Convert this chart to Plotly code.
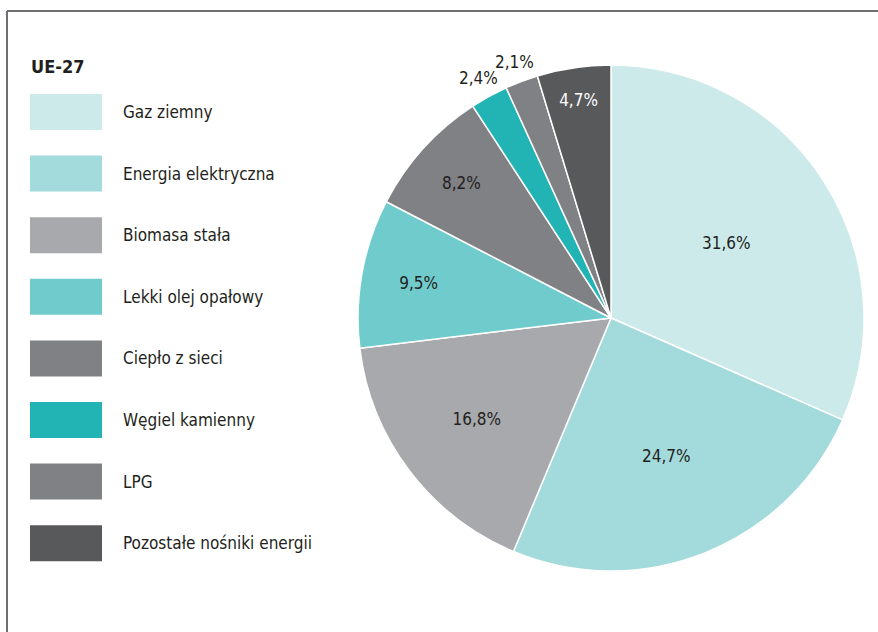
import math
import plotly.graph_objects as go

categories = ["Gaz ziemny", "Energia elektryczna", "Biomasa stała", "Lekki olej opałowy",
              "Ciepło z sieci", "Węgiel kamienny", "LPG", "Pozostałe nośniki energii"]
values = [31.6, 24.7, 16.8, 9.5, 8.2, 2.4, 2.1, 4.7]
colors = ["#cdeaea", "#a3dadb", "#a8a9ad", "#70cccc", "#808184", "#22b3b5", "#808184", "#58595b"]
outside = [False, False, False, False, False, True, True, False]
text_colors = ["#231f20"] * 7 + ["#ffffff"]
title = "UE-27"

W, H = 878, 632
FONT = "Liberation Sans Narrow, DejaVu Sans Condensed, Arial Narrow, sans-serif"
CX, CY, R = 611, 318, 253

labels_txt = [f"{v:.1f}%".replace(".", ",") for v in values]
inside_txt = ["" if o else t for o, t in zip(outside, labels_txt)]

fig = go.Figure(go.Pie(
    labels=categories,
    values=values,
    text=inside_txt,
    textinfo="text",
    textposition="inside",
    insidetextorientation="horizontal",
    insidetextfont=dict(color=text_colors, size=17, family=FONT),
    sort=False,
    direction="clockwise",
    rotation=0,
    marker=dict(colors=colors, line=dict(color="#ffffff", width=1.5)),
    domain=dict(x=[(CX - R) / W, (CX + R) / W], y=[1 - (CY + R) / H, 1 - (CY - R) / H]),
    showlegend=False,
    hoverinfo="label+text",
))

shapes = [
    dict(type="line", xref="paper", yref="paper", x0=7 / W, x1=1, y0=1 - 11 / H, y1=1 - 11 / H,
         line=dict(color="#6d6e71", width=2)),
    dict(type="line", xref="paper", yref="paper", x0=7 / W, x1=7 / W, y0=0, y1=1 - 11 / H,
         line=dict(color="#6d6e71", width=2)),
]
annotations = [
    dict(text="<b>" + title + "</b>", xref="paper", yref="paper", x=29 / W, y=1 - 66 / H,
         xanchor="left", yanchor="middle", showarrow=False,
         font=dict(family=FONT, size=18, color="#231f20")),
]

# outside labels placed along the slice mid-angle, from the data
total = sum(values)
cum = 0.0
for v, t, o in zip(values, labels_txt, outside):
    mid = (cum + v / 2) / total * 2 * math.pi
    cum += v
    if o:
        rr = R + 21
        px = CX + rr * math.sin(mid)
        py = CY - rr * math.cos(mid)
        annotations.append(dict(text=t, xref="paper", yref="paper", x=px / W, y=1 - py / H,
                                xanchor="center", yanchor="middle", showarrow=False,
                                font=dict(family=FONT, size=17, color="#231f20")))

step = 61.6
for i, (cat, col) in enumerate(zip(categories, colors)):
    top = 94 + i * step
    shapes.append(dict(type="rect", xref="paper", yref="paper",
                       x0=30 / W, x1=102 / W, y0=1 - (top + 36) / H, y1=1 - top / H,
                       fillcolor=col, line=dict(width=0)))
    annotations.append(dict(text=cat, xref="paper", yref="paper", x=121 / W, y=1 - (top + 18) / H,
                            xanchor="left", yanchor="middle", showarrow=False,
                            font=dict(family=FONT, size=17, color="#231f20")))

fig.update_layout(
    width=W, height=H,
    margin=dict(l=0, r=0, t=0, b=0),
    paper_bgcolor="#ffffff",
    shapes=shapes,
    annotations=annotations,
)

fig.write_html("out.html", config={"displayModeBar": False},
               post_script="document.body.style.margin='0';document.body.style.overflow='hidden';")
